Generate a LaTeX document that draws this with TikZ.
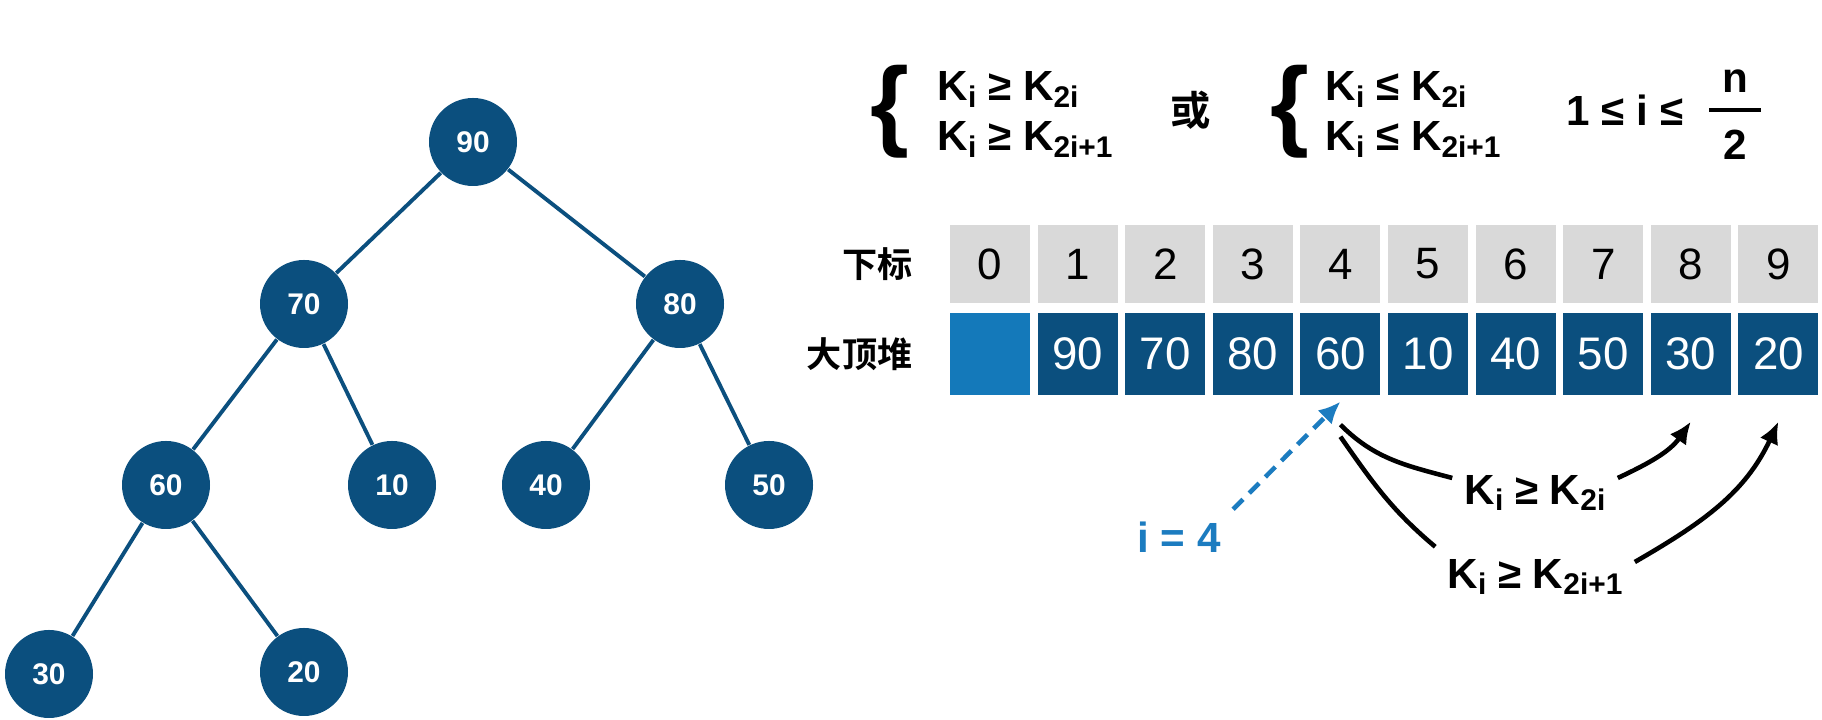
\documentclass[tikz,border=0pt]{standalone}
\usepackage{fontspec}
\setmainfont{Liberation Sans}
\newfontfamily\cjk{Noto Sans CJK SC}[BoldFont=* Bold]
\usetikzlibrary{arrows.meta,positioning}
\definecolor{heap}{HTML}{0B4F7E}
\definecolor{slot}{HTML}{1479BA}
\definecolor{index}{HTML}{D9D9D9}
\definecolor{hint}{HTML}{1C7CC0}
\newcommand{\ksub}[1]{\raisebox{-.3ex}{\fontsize{8.5}{8.5}\selectfont#1}}

\begin{document}
\begin{tikzpicture}[key/.style={circle,fill=heap,text=white,minimum size=8.8mm,inner sep=0pt,font=\bfseries\fontsize{8.5}{10}\selectfont},link/.style={heap,line width=1.1pt},idxcell/.style={fill=index,minimum width=8mm,minimum height=7.8mm,inner sep=0pt,font=\fontsize{12.5}{13}\selectfont},heapcell/.style={fill=heap,text=white,minimum width=8mm,minimum height=8.2mm,inner sep=0pt,font=\fontsize{13}{14}\selectfont},formula/.style={font=\bfseries\fontsize{12}{14.5}\selectfont},brace/.style={inner sep=0pt,font=\bfseries},ineq/.style={line width=1.3pt,-{Latex[length=2.2mm,width=2mm]}},pointer/.style={hint,line width=1.3pt,dash pattern=on 4pt off 2.5pt,-{Latex[length=2.2mm,width=2mm]}}]
 \fill[white] (0,0) rectangle (18.22,7.2);
 \useasboundingbox (0,0) rectangle (18.22,7.2);
 % tree
 \foreach \k/\v/\x/\y in {1/90/4.73/5.78,2/70/3.04/4.16,3/80/6.80/4.16,4/60/1.66/2.35,5/10/3.92/2.35,6/40/5.46/2.35,7/50/7.69/2.35,8/30/.49/.46,9/20/3.04/.48}{\node[key] (t\k) at (\x,\y) {\v};}
 \foreach \a/\b in {1/2,1/3,2/4,2/5,3/6,3/7,4/8,4/9}{\draw[link] (t\a)--(t\b);}
 % conditions
 \node[brace] (br1) at (8.90,6.08) {\resizebox*{!}{9.3mm}{\{}};
 \node[formula,anchor=base west,inner sep=0pt] (maxa) at (9.37,6.19) {K\ksub{i} ≥ K\ksub{2i}};
 \node[formula,anchor=base west,inner sep=0pt] (maxb) at (9.37,5.69) {K\ksub{i} ≥ K\ksub{2i+1}};
 \node[font=\cjk\bfseries\fontsize{11.5}{12}\selectfont] (or) at (11.91,6.10) {或};
 \node[brace] (br2) at (12.90,6.08) {\resizebox*{!}{9.3mm}{\{}};
 \node[formula,anchor=base west,inner sep=0pt] (mina) at (13.25,6.19) {K\ksub{i} ≤ K\ksub{2i}};
 \node[formula,anchor=base west,inner sep=0pt] (minb) at (13.25,5.69) {K\ksub{i} ≤ K\ksub{2i+1}};
 \node[formula,anchor=west,inner sep=0pt] (range) at (15.66,6.10) {1 ≤ i ≤};
 \node[formula] (fn) at (17.35,6.39) {n};
 \node[formula] (fd) at (17.35,5.75) {2};
 \draw[line width=1pt] (17.09,6.10)--(17.61,6.10);
 % array
 \foreach \k in {0,...,9}{\node[idxcell] (i\k) at (9.90+.876*\k,4.56) {\k};}
 \node[heapcell,fill=slot] (h0) at (9.90,3.66) {};
 \foreach \v [count=\k] in {90,70,80,60,10,40,50,30,20}{\node[heapcell] (h\k) at (9.90+.876*\k,3.66) {\v};}
 \node[anchor=east,inner sep=0pt,font=\cjk\bfseries\fontsize{10}{11}\selectfont] (lblidx) at (9.13,4.56) {下标};
 \node[anchor=east,inner sep=0pt,font=\cjk\bfseries\fontsize{10}{11}\selectfont] (lblheap) at (9.13,3.66) {大顶堆};
 % i = 4 and its children
 \node[formula,text=hint] (i4) at (11.79,1.83) {i = 4};
 \coordinate[below=.06 of h4] (p4);
 \draw[pointer] (i4.north east)--(p4);
 \node[formula] (ge2i) at (15.35,2.27) {K\ksub{i} ≥ K\ksub{2i}};
 \node[formula] (ge2i1) at (15.35,1.43) {K\ksub{i} ≥ K\ksub{2i+1}};
 \coordinate[below=.29 of h4] (c4a);
 \coordinate[below=.41 of h4] (c4b);
 \coordinate[below=.26 of h8] (c8);
 \coordinate[below=.26 of h9] (c9);
 \draw[line width=1.3pt] (c4a) to[out=-45,in=165] ([yshift=1.5mm]ge2i.west);
 \draw[ineq] ([yshift=1.5mm]ge2i.east) to[out=25,in=-125] (c8);
 \draw[line width=1.3pt] (c4b) to[out=-55,in=140] (ge2i1.north west);
 \draw[ineq] ([yshift=1.5mm]ge2i1.east) to[out=30,in=-115] (c9);
\end{tikzpicture}
\end{document}
